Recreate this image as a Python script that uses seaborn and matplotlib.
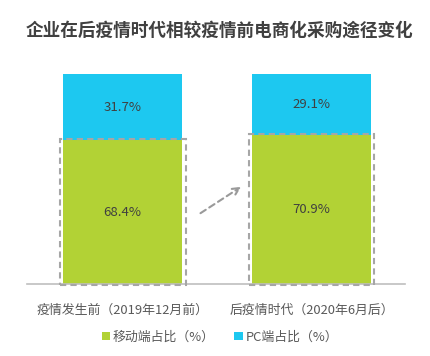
import matplotlib
matplotlib.use("Agg")
import matplotlib.pyplot as plt
import seaborn as sns
import pandas as pd
from matplotlib.patches import Rectangle, Patch

sns.set_style("white")
plt.rcParams['font.family'] = ['Noto Sans CJK SC', 'DejaVu Sans']

title = "企业在后疫情时代相较疫情前电商化采购途径变化"
periods = ["疫情发生前（2019年12月前）", "后疫情时代（2020年6月后）"]
mobile = [68.4, 70.9]
pc = [31.7, 29.1]
series_names = ["移动端占比（%）", "PC端占比（%）"]

green = "#B2D235"
blue = "#1DC8F0"
text_dark = "#404040"
grey = "#A6A6A6"

df = pd.DataFrame({"period": periods, "mobile": mobile, "pc": pc})
df["total"] = df["mobile"] + df["pc"]

fig = plt.figure(figsize=(4.30, 3.56), dpi=100)
ax = fig.add_axes([27/430, (356-284)/356, 378/430, 210/356])

bw = 0.63
sns.barplot(data=df, x="period", y="total", color=blue, width=bw, ax=ax,
            saturation=1, edgecolor="none")
sns.barplot(data=df, x="period", y="mobile", color=green, width=bw, ax=ax,
            saturation=1, edgecolor="none")

ax.set_xlim(-0.507, 1.496)
ax.set_ylim(0, 100)

for i, (m, p) in enumerate(zip(mobile, pc)):
    ax.text(i, m / 2, f"{m}%", ha="center", va="center", fontsize=9.5, color=text_dark)
    ax.text(i, m + p / 2, f"{p}%", ha="center", va="center", fontsize=9.5, color=text_dark)
    # dashed highlight around mobile segment
    pad = 0.018
    rect = Rectangle((i - bw / 2 - pad, -0.3), bw + 2 * pad, m + 0.8,
                     fill=False, edgecolor=grey, linestyle=(0, (3, 2)),
                     linewidth=1.5, clip_on=False, zorder=5)
    ax.add_patch(rect)

ax.annotate("", xy=(0.64, 47.0), xytext=(0.40, 33.0),
            arrowprops=dict(arrowstyle="->", color="#9A9A9A", linestyle=(0, (3, 2)),
                            linewidth=1.5, mutation_scale=12))

for s in ["top", "right", "left"]:
    ax.spines[s].set_visible(False)
ax.spines["bottom"].set_color("#BFBFBF")
ax.spines["bottom"].set_linewidth(1.2)
ax.set_yticks([])
ax.set_xlabel("")
ax.set_ylabel("")
ax.tick_params(axis="x", length=0, pad=14, labelsize=9.3, labelcolor="#595959")

fig.text(220/430, 1 - 31/356, title, ha="center", va="center",
         fontsize=12.7, fontweight="bold", color=text_dark)

handles = [Patch(facecolor=green, edgecolor="none"), Patch(facecolor=blue, edgecolor="none")]
fig.legend(handles, series_names, loc="center", bbox_to_anchor=(220/430, 1 - 337/356),
           ncol=2, frameon=False, fontsize=9.3, labelcolor="#595959",
           handlelength=0.65, handleheight=0.65, handletextpad=0.2, columnspacing=1.5)

fig.savefig("out.png", dpi=100)
